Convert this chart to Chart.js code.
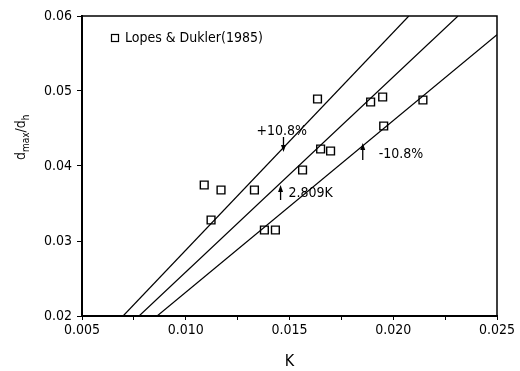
<!DOCTYPE html>
<html>
<head>
<meta charset="utf-8">
<script src="https://cdn.jsdelivr.net/npm/chart.js@4.4.1/dist/chart.umd.min.js"></script>
<style>
html, body { margin: 0; padding: 0; background: #fff; }
</style>
</head>
<body>
<canvas id="grafico" width="520" height="371"></canvas>
<script>
// Lopes & Dukler (1985)
const puntosK = [0.01089, 0.01170, 0.01331, 0.01122, 0.01379, 0.01432, 0.01563, 0.01650, 0.01698, 0.01635, 0.01891, 0.01949, 0.02143, 0.01954];
const puntosD = [0.03747, 0.03680, 0.03680, 0.03280, 0.03147, 0.03147, 0.03947, 0.04227, 0.04200, 0.04893, 0.04853, 0.04920, 0.04880, 0.04533];

// rectas (extremos)
const lineaSupK = [0.00698, 0.02075];
const lineaSupD = [0.02, 0.06];
const lineaCenK = [0.00775, 0.02312];
const lineaCenD = [0.02, 0.06];
const lineaInfK = [0.00862, 0.025];
const lineaInfD = [0.02, 0.0575];

const xTickValues = [0.005, 0.0075, 0.01, 0.0125, 0.015, 0.0175, 0.02, 0.0225, 0.025];
const xTickLabels = ['0.005', '', '0.010', '', '0.015', '', '0.020', '', '0.025'];
const yTickValues = [0.02, 0.03, 0.04, 0.05, 0.06];
const yTickLabels = ['0.02', '0.03', '0.04', '0.05', '0.06'];

const leyenda = 'Lopes & Dukler(1985)';
const notas = [
    { texto: '+10.8%', x: 0.01341, y: 0.04467, flechaX: 0.01471, desde: 0.04387, hasta: 0.04187 },
    { texto: '2.809K', x: 0.01495, y: 0.03640, flechaX: 0.01457, desde: 0.03547, hasta: 0.03747 },
    { texto: '-10.8%', x: 0.01930, y: 0.04160, flechaX: 0.01853, desde: 0.04080, hasta: 0.04307 }
];

const fuente = '"Liberation Sans Narrow", "DejaVu Sans Condensed", "Liberation Sans", Arial, sans-serif';

function aPuntos(xs, ys) {
    return xs.map((x, i) => ({ x, y: ys[i] }));
}

function flecha(ctx, x, y1, y2) {
    const dir = y2 > y1 ? 1 : -1;
    ctx.beginPath();
    ctx.moveTo(x, y1);
    ctx.lineTo(x, y2 - dir * 4);
    ctx.stroke();
    ctx.beginPath();
    ctx.moveTo(x, y2);
    ctx.lineTo(x - 2.5, y2 - dir * 7);
    ctx.lineTo(x + 2.5, y2 - dir * 7);
    ctx.closePath();
    ctx.fill();
}

const extras = {
    id: 'extras',
    afterDraw(chart) {
        const { ctx, chartArea: a, scales: { x, y } } = chart;
        ctx.save();
        ctx.strokeStyle = '#000';
        ctx.fillStyle = '#000';

        // marco superior y derecho
        ctx.lineWidth = 1.5;
        ctx.beginPath();
        ctx.moveTo(a.left, a.top);
        ctx.lineTo(a.right, a.top);
        ctx.lineTo(a.right, a.bottom);
        ctx.stroke();

        // leyenda
        ctx.lineWidth = 1.2;
        ctx.strokeRect(a.left + 29.5, a.top + 18.5, 7, 7);
        ctx.font = '14px ' + fuente;
        ctx.textBaseline = 'middle';
        ctx.textAlign = 'left';
        ctx.fillText(leyenda, a.left + 43, a.top + 22);

        // notas con flechas
        ctx.lineWidth = 1.3;
        notas.forEach(n => {
            ctx.fillText(n.texto, x.getPixelForValue(n.x), y.getPixelForValue(n.y));
            flecha(ctx, x.getPixelForValue(n.flechaX), y.getPixelForValue(n.desde), y.getPixelForValue(n.hasta));
        });

        // titulo eje y: d_max / d_h
        ctx.translate(25, 136);
        ctx.rotate(-Math.PI / 2);
        ctx.textBaseline = 'alphabetic';
        let px = -24;
        const partes = [['d', 14, 0], ['max', 10, 4], ['/d', 14, 0], ['h', 10, 4]];
        partes.forEach(([t, s, dy]) => {
            ctx.font = s + 'px ' + fuente;
            ctx.fillText(t, px, dy);
            px += ctx.measureText(t).width;
        });
        ctx.restore();
    }
};

new Chart(document.getElementById('grafico'), {
    type: 'scatter',
    data: {
        datasets: [
            {
                label: leyenda,
                data: aPuntos(puntosK, puntosD),
                pointStyle: 'rect',
                pointRadius: 5.5,
                pointBorderWidth: 1.4,
                borderColor: '#000',
                backgroundColor: 'rgba(0,0,0,0)'
            },
            {
                label: '+10.8%',
                data: aPuntos(lineaSupK, lineaSupD),
                showLine: true, pointRadius: 0, borderColor: '#000', borderWidth: 1.2
            },
            {
                label: '2.809K',
                data: aPuntos(lineaCenK, lineaCenD),
                showLine: true, pointRadius: 0, borderColor: '#000', borderWidth: 1.2
            },
            {
                label: '-10.8%',
                data: aPuntos(lineaInfK, lineaInfD),
                showLine: true, pointRadius: 0, borderColor: '#000', borderWidth: 1.2
            }
        ]
    },
    options: {
        responsive: false,
        animation: false,
        devicePixelRatio: 1,
        layout: { padding: { top: 16, right: 23, left: 0, bottom: 0 } },
        plugins: {
            legend: { display: false },
            tooltip: { enabled: false }
        },
        scales: {
            x: {
                type: 'linear',
                min: 0.005,
                max: 0.025,
                afterBuildTicks: s => { s.ticks = xTickValues.map(v => ({ value: v })); },
                afterFit: s => { s.height = 55; },
                ticks: {
                    autoSkip: false,
                    maxRotation: 0,
                    padding: 2,
                    color: '#000',
                    font: { family: fuente, size: 14 },
                    callback: (v, i) => xTickLabels[i]
                },
                grid: { drawOnChartArea: false, tickLength: 4, color: '#000' },
                border: { color: '#000', width: 2 },
                title: {
                    display: true,
                    text: 'K',
                    color: '#000',
                    font: { family: fuente, size: 16 },
                    padding: { top: 0, bottom: 0 }
                }
            },
            y: {
                type: 'linear',
                min: 0.02,
                max: 0.06,
                afterBuildTicks: s => { s.ticks = yTickValues.map(v => ({ value: v })); },
                afterFit: s => { s.width = 82; },
                ticks: {
                    padding: 5,
                    color: '#000',
                    font: { family: fuente, size: 14 },
                    callback: (v, i) => yTickLabels[i]
                },
                grid: { drawOnChartArea: false, tickLength: 5, color: '#000' },
                border: { color: '#000', width: 2 }
            }
        }
    },
    plugins: [extras]
});
</script>
</body>
</html>
